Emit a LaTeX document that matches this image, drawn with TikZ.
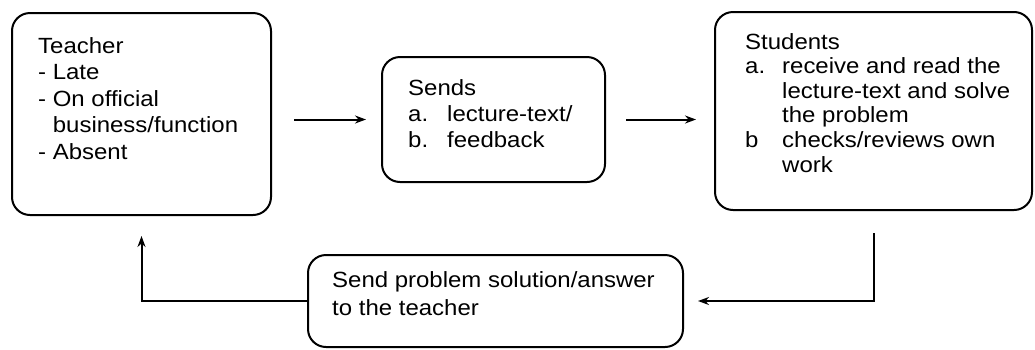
\documentclass[tikz,border=0pt]{standalone}
\usepackage{fontspec}
\setmainfont{Liberation Sans}[FakeStretch=1.09]
\usetikzlibrary{positioning, arrows.meta, calc}

\tikzset{
  box/.style={draw, line width=2pt, rounded corners=18pt},
  txt/.style={anchor=north west, align=left, inner sep=0pt,
    font=\fontsize{22}{26}\selectfont},
  arr/.style={line width=2pt, -{Stealth[length=11pt,width=8pt]}}
}

\begin{document}
\begin{tikzpicture}[x=1pt, y=-1pt]
\useasboundingbox (0,0) rectangle (1035,349);

% Boxes
\node[box, minimum width=259pt, minimum height=202pt] (teacher) at (141.5,114) {};
\node[box, minimum width=223pt, minimum height=125pt] (sends) at (493.5,119.5) {};
\node[box, minimum width=317pt, minimum height=198pt] (students) at (873.5,111) {};
\node[box, minimum width=375pt, minimum height=92pt] (answer) at (495.5,301) {};

% Texts
\node[txt, font=\fontsize{22}{26.5}\selectfont] (teachertxt) at (38,37) {Teacher\\- Late\\- On official\\\hphantom{- }business/function\\- Absent};
\node[txt] (sendstxt) at (408,79) {Sends\\\makebox[39pt][l]{a.}lecture-text/\\\makebox[39pt][l]{b.}feedback};
\node[txt, font=\fontsize{22}{24.6}\selectfont] (studentstxt) at (745,33) {Students\\\makebox[37pt][l]{a.}receive and read the\\\hspace*{37pt}lecture-text and solve\\\hspace*{37pt}the problem\\\makebox[37pt][l]{b}checks/reviews own\\\hspace*{37pt}work};
\node[txt, font=\fontsize{22}{28}\selectfont] (answertxt) at (332,271) {Send problem solution/answer\\to the teacher};

% Arrows
\draw[arr, shorten <=22pt, shorten >=15pt] (teacher.east |- sends.west) -- (sends.west);
\draw[arr, shorten <=20pt, shorten >=18pt] (sends.east) -- (students.west |- sends.east);
\draw[arr, shorten <=22pt, shorten >=14pt] (students.south) |- (answer.east);
\draw[arr, shorten >=20pt] (answer.west) -| (teacher.south);

\end{tikzpicture}
\end{document}
